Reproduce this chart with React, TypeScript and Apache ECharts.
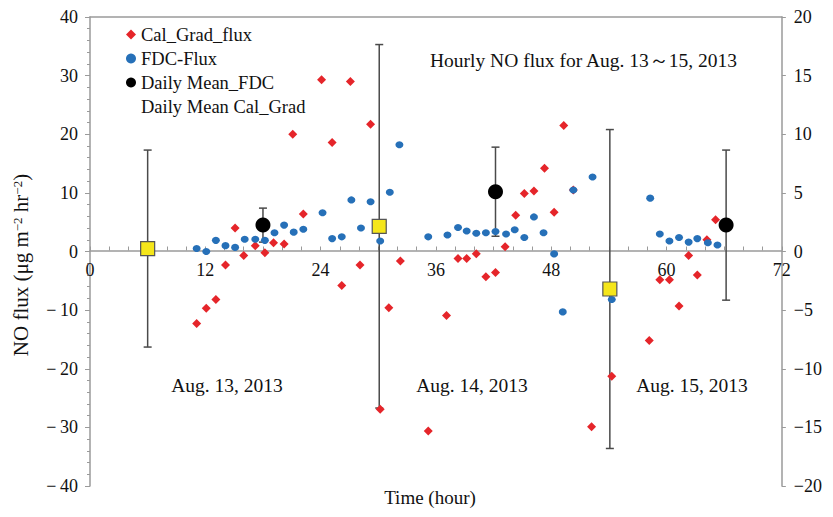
import React, { useEffect, useRef } from "react";
import * as echarts from "echarts";

const calHours = [11.1, 12.1, 13.1, 14.1, 15.1, 16.0, 17.2, 18.2, 19.1, 20.2, 21.1, 22.2, 24.1, 25.2, 26.2, 27.1, 28.1, 29.2, 30.2, 31.1, 32.3, 35.2, 37.1, 38.3, 39.2, 40.2, 41.2, 42.2, 43.2, 44.3, 45.2, 46.2, 47.3, 48.3, 49.3, 50.3, 52.2, 54.3, 58.2, 59.3, 60.3, 61.3, 62.3, 63.2, 64.2, 65.1];
const calValues = [-12.3, -9.7, -8.2, -2.3, 4.0, -0.7, 1.0, -0.2, 1.5, 1.3, 20.0, 6.4, 29.3, 18.6, -5.8, 29.0, -2.3, 21.7, -26.9, -9.6, -1.6, -30.6, -10.9, -1.2, -1.2, -0.4, -4.3, -3.6, 0.8, 6.2, 9.9, 10.3, 14.2, 6.7, 21.5, 10.5, -29.9, -21.3, -15.2, -4.8, -4.8, -9.3, -0.7, -4.0, 2.0, 5.4];

const fdcHours = [11.1, 12.1, 13.1, 14.1, 15.1, 16.1, 17.2, 18.2, 19.2, 20.2, 21.2, 22.2, 24.2, 25.2, 26.2, 27.2, 28.2, 29.2, 30.2, 31.2, 32.2, 35.2, 37.2, 38.3, 39.2, 40.2, 41.2, 42.2, 43.3, 44.2, 45.2, 46.2, 47.2, 48.3, 49.2, 50.3, 52.3, 54.3, 58.3, 59.3, 60.3, 61.3, 62.3, 63.2, 64.3, 65.3];
const fdcValues = [0.5, 0.0, 1.9, 1.0, 0.7, 2.1, 2.1, 1.9, 3.2, 4.5, 3.3, 3.8, 6.6, 2.2, 2.5, 8.8, 4.0, 8.5, 1.8, 10.1, 18.2, 2.5, 2.8, 4.1, 3.5, 3.1, 3.2, 3.4, 3.0, 3.7, 2.4, 5.9, 3.2, -0.4, -10.3, 10.5, 12.7, -8.2, 9.1, 3.0, 1.8, 2.4, 1.6, 2.2, 1.5, 1.1];

const fdcMeanHours = [18.0, 42.2, 66.2];
const fdcMeans = [4.5, 10.2, 4.5];
const fdcErrors = [2.9, 7.6, 12.8];

const calMeanHours = [6.0, 30.1, 54.1];
const calMeans = [0.5, 4.3, -6.4];
const calErrors = [16.8, 31.0, 27.2];

const dayLabels = ["Aug. 13, 2013", "Aug. 14, 2013", "Aug. 15, 2013"];
const chartTitle = "Hourly NO flux for Aug. 13～15, 2013";

const FONT = "'Liberation Serif', 'Times New Roman', serif";
const AXIS_COLOR = "#9a9a9a";

const CHART_W = 817;
const CHART_H = 501;
const GRID = { left: 82, right: 39, top: 7, bottom: 23 };
const Y_MIN = -40;
const Y_MAX = 40;

function errorBarRenderer(params: any, api: any) {
  const x = api.value(0);
  const y = api.value(1);
  const e = api.value(2);
  const top = api.coord([x, y + e]);
  const bot = api.coord([x, y - e]);
  const style = { stroke: "#4a4a4a", lineWidth: 1.5 };
  return {
    type: "group",
    children: [
      { type: "line", shape: { x1: top[0], y1: top[1], x2: bot[0], y2: bot[1] }, style },
      { type: "line", shape: { x1: top[0] - 4, y1: top[1], x2: top[0] + 4, y2: top[1] }, style },
      { type: "line", shape: { x1: bot[0] - 4, y1: bot[1], x2: bot[0] + 4, y2: bot[1] }, style },
    ],
  };
}

function fmtLeft(v: number) {
  return v < 0 ? "\u2212\u2009" + Math.abs(v) : String(v);
}
function fmtRight(v: number) {
  return v < 0 ? "\u2212" + Math.abs(v) : String(v);
}

export default function App() {
  const ref = useRef<HTMLDivElement>(null);
  useEffect(() => {
    if (!ref.current) return;
    const chart = echarts.init(ref.current, undefined, { renderer: "svg" });
    const pairs = (xs: number[], ys: number[]) => xs.map((x, i) => [x, ys[i]]);
    const textStyle = (size: number) => ({ font: `${size}px ${FONT}`, fill: "#111", align: "center", verticalAlign: "middle" });
    // distance from the bottom of the grid to the value 0 on the left axis
    const gridH = CHART_H - GRID.top - GRID.bottom;
    const zeroOffset = -gridH * ((0 - Y_MIN) / (Y_MAX - Y_MIN));
    const option: any = {
      animation: false,
      backgroundColor: "#ffffff",
      textStyle: { fontFamily: FONT },
      grid: { ...GRID, containLabel: false },
      legend: {
        orient: "vertical",
        left: 112,
        top: 12,
        itemWidth: 10,
        itemHeight: 10,
        itemGap: 5,
        textStyle: { fontFamily: FONT, fontSize: 18.5, lineHeight: 18, color: "#111" },
        data: [
          { name: "Cal_Grad_flux", icon: "diamond" },
          { name: "FDC-Flux", icon: "circle" },
          { name: "Daily Mean_FDC", icon: "circle" },
          { name: "Daily Mean Cal_Grad", itemStyle: { opacity: 0 } },
        ],
      },
      xAxis: [
        {
          type: "value",
          position: "bottom",
          offset: zeroOffset,
          min: 0,
          max: 72,
          interval: 12,
          axisLine: { onZero: false, lineStyle: { color: AXIS_COLOR, width: 1.5 } },
          axisTick: { show: true, inside: true, length: 4, lineStyle: { color: AXIS_COLOR } },
          minorTick: { show: true, splitNumber: 6, length: 4, lineStyle: { color: AXIS_COLOR } },
          axisLabel: { color: "#111", fontSize: 18, fontFamily: FONT, margin: 10, showMinLabel: true, showMaxLabel: true },
          splitLine: { show: false },
        },
        {
          type: "value",
          position: "top",
          min: 0,
          max: 72,
          axisLine: { show: true, onZero: false, lineStyle: { color: AXIS_COLOR, width: 1.5 } },
          axisTick: { show: false },
          axisLabel: { show: false },
          splitLine: { show: false },
        },
      ],
      yAxis: [
        {
          type: "value",
          min: Y_MIN,
          max: Y_MAX,
          interval: 10,
          position: "left",
          axisLine: { show: true, onZero: false, lineStyle: { color: AXIS_COLOR, width: 1.5 } },
          axisTick: { show: true, inside: false, length: 5, lineStyle: { color: AXIS_COLOR } },
          minorTick: { show: true, splitNumber: 5, length: 3, lineStyle: { color: AXIS_COLOR } },
          axisLabel: { color: "#111", fontSize: 18, fontFamily: FONT, margin: 12, formatter: fmtLeft },
          splitLine: { show: false },
        },
        {
          type: "value",
          min: -20,
          max: 20,
          interval: 5,
          position: "right",
          axisLine: { show: true, onZero: false, lineStyle: { color: AXIS_COLOR, width: 1.5 } },
          axisTick: { show: true, inside: false, length: 4, lineStyle: { color: AXIS_COLOR } },
          axisLabel: { color: "#111", fontSize: 18, fontFamily: FONT, margin: 12, formatter: fmtRight },
          splitLine: { show: false },
        },
      ],
      series: [
        {
          type: "custom",
          name: "calErr",
          renderItem: errorBarRenderer,
          data: calMeanHours.map((h, i) => [h, calMeans[i], calErrors[i]]),
          silent: true,
          z: 1,
        },
        {
          type: "custom",
          name: "fdcErr",
          renderItem: errorBarRenderer,
          data: fdcMeanHours.map((h, i) => [h, fdcMeans[i], fdcErrors[i]]),
          silent: true,
          z: 1,
        },
        {
          type: "scatter",
          name: "Cal_Grad_flux",
          symbol: "diamond",
          symbolSize: 9,
          itemStyle: { color: "#e5252a", opacity: 1 },
          data: pairs(calHours, calValues),
          z: 2,
        },
        {
          type: "scatter",
          name: "FDC-Flux",
          symbol: "circle",
          symbolSize: [8, 7],
          itemStyle: { color: "#2670b8", opacity: 1 },
          data: pairs(fdcHours, fdcValues),
          z: 3,
        },
        {
          type: "scatter",
          name: "Daily Mean_FDC",
          symbol: "circle",
          symbolSize: 15,
          itemStyle: { color: "#000000", opacity: 1 },
          data: pairs(fdcMeanHours, fdcMeans),
          z: 4,
        },
        {
          type: "scatter",
          name: "Daily Mean Cal_Grad",
          symbol: "rect",
          symbolSize: 14,
          itemStyle: { color: "#f5e61a", borderColor: "#555", borderWidth: 1.2, opacity: 1 },
          data: pairs(calMeanHours, calMeans),
          z: 5,
        },
      ],
      graphic: [
        { type: "text", x: 422, y: 52, style: { ...textStyle(19.5), align: "left", text: chartTitle } },
        { type: "text", x: 219, y: 377, style: { ...textStyle(19.5), text: dayLabels[0] } },
        { type: "text", x: 464, y: 377, style: { ...textStyle(19.5), text: dayLabels[1] } },
        { type: "text", x: 684, y: 377, style: { ...textStyle(19.5), text: dayLabels[2] } },
        { type: "text", x: 422, y: 489, style: { ...textStyle(19), text: "Time (hour)" } },
        {
          type: "text",
          x: 13,
          y: 257,
          rotation: Math.PI / 2,
          style: {
            text: "{a|NO flux (μg m}{s|\u22122}{a| hr}{s|\u22122}{a|)}",
            align: "center",
            verticalAlign: "middle",
            fill: "#111",
            rich: {
              a: { fontFamily: FONT, fontSize: 21, lineHeight: 20, fill: "#111" },
              s: { fontFamily: FONT, fontSize: 13, lineHeight: 11, verticalAlign: "top", fill: "#111" },
            },
          },
        },
      ],
    };
    chart.setOption(option);
    return () => chart.dispose();
  }, []);
  return <div ref={ref} style={{ width: CHART_W, height: CHART_H }} />;
}
